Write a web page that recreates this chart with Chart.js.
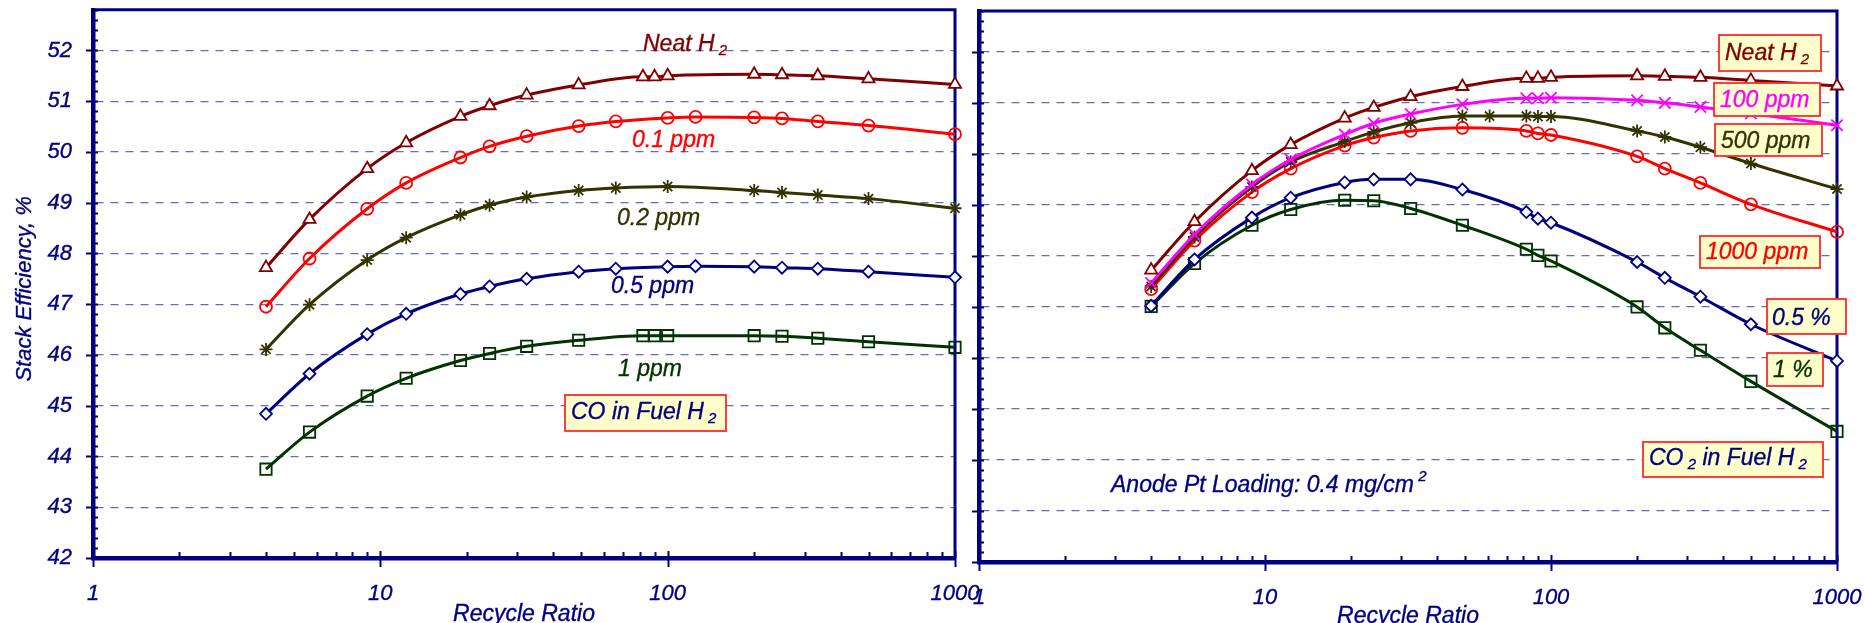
<!DOCTYPE html>
<html>
<head>
<meta charset="utf-8">
<title>Stack efficiency vs recycle ratio</title>
<script src="https://cdn.jsdelivr.net/npm/chart.js@4.4.0/dist/chart.umd.min.js"></script>
<style>
  html, body { margin: 0; padding: 0; background: #fff; overflow: hidden; }
  #wrap { position: relative; width: 1866px; height: 623px; }
  canvas { position: absolute; top: 0; }
  #coChart { left: 0; }
  #co2Chart { left: 940px; }
</style>
</head>
<body>
<div id="wrap">
  <canvas id="coChart" width="1000" height="623"></canvas>
  <canvas id="co2Chart" width="926" height="623"></canvas>
</div>
<script>
const NAVY = '#000080';
const MAROON = '#800000';
const RED = '#ff0000';
const OLIVE = '#333300';
const GREEN = '#003300';
const MAGENTA = '#ff00ff';
const GRID = '#6a6abb';
const FONT = '"Liberation Sans", Arial, sans-serif';

// ---- CO in fuel H2 (left panel) ----
const coRatioA = [4, 5.67, 9, 12.3, 19, 24, 32.3, 49, 82, 90, 100, 200, 250, 333, 500, 1000];
const coRatioB = [4, 5.67, 9, 12.3, 19, 24, 32.3, 49, 66, 100, 125, 200, 250, 333, 500, 1000];
const coRatioC = [4, 5.67, 9, 12.3, 19, 24, 32.3, 49, 66, 100, 200, 250, 333, 500, 1000];

const coNeat  = [47.72, 48.67, 49.67, 50.18, 50.70, 50.91, 51.12, 51.32, 51.48, 51.48, 51.50, 51.53, 51.52, 51.50, 51.44, 51.33];
const co01ppm = [46.95, 47.90, 48.88, 49.39, 49.89, 50.11, 50.31, 50.51, 50.60, 50.67, 50.69, 50.68, 50.66, 50.60, 50.52, 50.35];
const co02ppm = [46.11, 46.99, 47.87, 48.31, 48.76, 48.95, 49.11, 49.24, 49.29, 49.32, 49.24, 49.20, 49.15, 49.08, 48.89];
const co05ppm = [44.84, 45.63, 46.41, 46.81, 47.20, 47.35, 47.50, 47.64, 47.70, 47.74, 47.75, 47.74, 47.72, 47.70, 47.64, 47.53];
const co1ppm  = [43.75, 44.48, 45.19, 45.54, 45.89, 46.03, 46.17, 46.29, 46.38, 46.38, 46.38, 46.38, 46.37, 46.33, 46.26, 46.15];

// ---- CO2 in fuel H2 (right panel) ----
const co2RatioA = [4, 5.67, 9, 12.3, 19, 24, 32.3, 49, 82, 90, 100, 200, 250, 333, 500, 1000];
const co2RatioB = [4, 5.67, 9, 12.3, 19, 24, 32.3, 49, 61, 82, 90, 100, 200, 250, 333, 500, 1000];

const co2Neat    = [47.72, 48.67, 49.67, 50.18, 50.70, 50.91, 51.12, 51.32, 51.48, 51.48, 51.50, 51.53, 51.52, 51.50, 51.44, 51.33];
const co2_100ppm = [47.47, 48.42, 49.40, 49.89, 50.38, 50.60, 50.78, 50.97, 51.09, 51.09, 51.10, 51.05, 51.00, 50.92, 50.79, 50.56];
const co2_500ppm = [47.40, 48.37, 49.35, 49.84, 50.24, 50.43, 50.61, 50.74, 50.74, 50.74, 50.73, 50.73, 50.45, 50.33, 50.13, 49.81, 49.31];
const co2_1000ppm = [47.35, 48.30, 49.25, 49.71, 50.16, 50.32, 50.45, 50.51, 50.45, 50.40, 50.37, 49.95, 49.71, 49.43, 49.01, 48.47];
const co2_05pct  = [47.02, 47.93, 48.75, 49.14, 49.44, 49.50, 49.50, 49.30, 48.86, 48.73, 48.65, 47.88, 47.57, 47.20, 46.66, 45.94];
const co2_1pct   = [47.01, 47.85, 48.60, 48.91, 49.09, 49.08, 48.93, 48.60, 48.13, 48.01, 47.90, 47.00, 46.59, 46.15, 45.54, 44.56];

const effTicks = [42, 43, 44, 45, 46, 47, 48, 49, 50, 51, 52];
const ratioTicks = [1, 10, 100, 1000];

const HOLLOW = 'rgba(0,0,0,0)';

function pts(xs, ys) {
  return xs.map((x, i) => ({ x: x, y: ys[i] }));
}

function series(label, xs, ys, color, style, radius, fill) {
  return {
    label: label,
    data: pts(xs, ys),
    borderColor: color,
    backgroundColor: fill,
    borderWidth: 3,
    pointStyle: style,
    pointRadius: radius,
    pointBorderColor: color,
    pointBackgroundColor: fill,
    pointBorderWidth: 1.8,
    cubicInterpolationMode: 'monotone',
    clip: false
  };
}

// draws a run of text pieces; 'sub' and 'sup' pieces are smaller and shifted
function drawParts(ctx, parts, x, y, color) {
  ctx.fillStyle = color;
  ctx.strokeStyle = color;
  ctx.lineWidth = 0.35;
  ctx.textBaseline = 'alphabetic';
  ctx.textAlign = 'left';
  let cx = x;
  parts.forEach(p => {
    const kind = p[1] || '';
    const size = kind ? 15 : 23;
    const dy = kind === 'sub' ? 4 : (kind === 'sup' ? -11 : 0);
    ctx.font = 'italic ' + size + 'px ' + FONT;
    ctx.fillText(p[0], cx, y + dy);
    ctx.strokeText(p[0], cx, y + dy);
    cx += ctx.measureText(p[0]).width;
  });
}

function makeDeco(cfg) {
  return {
    id: 'panelDeco',
    beforeDatasetsDraw(chart) {
      const { ctx, chartArea: a, scales } = chart;
      const xs = scales.x, ys = scales.y;
      ctx.save();
      ctx.strokeStyle = NAVY;
      // top and right edges of the frame
      ctx.lineWidth = 3;
      ctx.beginPath();
      ctx.moveTo(a.left, a.top);
      ctx.lineTo(a.right, a.top);
      ctx.lineTo(a.right, a.bottom);
      ctx.stroke();
      // efficiency ticks every 0.2
      ctx.lineWidth = 2;
      ctx.beginPath();
      for (let i = 420; i <= 528; i += 2) {
        const py = Math.round(ys.getPixelForValue(i / 10)) + 0.5;
        const major = i % 10 === 0;
        ctx.moveTo(a.left - (major ? 7 : 2), py);
        ctx.lineTo(a.left + 5, py);
      }
      ctx.stroke();
      // log ticks on the ratio axis
      ctx.beginPath();
      [1, 10, 100].forEach(d => {
        for (let m = 1; m <= 9; m++) {
          const px = Math.round(xs.getPixelForValue(m * d)) + 0.5;
          if (m === 1) {
            ctx.moveTo(px, a.bottom - 7);
            ctx.lineTo(px, a.bottom + 9);
          } else {
            ctx.moveTo(px, a.bottom - 6);
            ctx.lineTo(px, a.bottom);
          }
        }
      });
      const pEnd = Math.round(xs.getPixelForValue(1000)) + 0.5;
      ctx.moveTo(pEnd, a.bottom - 7);
      ctx.lineTo(pEnd, a.bottom + 9);
      ctx.stroke();
      ctx.restore();
    },
    afterDatasetsDraw(chart) {
      const { ctx, chartArea: a } = chart;
      const off = cfg.offset;
      ctx.save();
      cfg.boxes.forEach(b => {
        ctx.fillStyle = '#ffffcc';
        ctx.fillRect(b.x - off, b.y, b.w, b.h);
        ctx.strokeStyle = '#ff2a2a';
        ctx.lineWidth = 1.8;
        ctx.strokeRect(b.x - off, b.y, b.w, b.h);
      });
      cfg.notes.forEach(n => drawParts(ctx, n.parts, n.x - off, n.y, n.color));

      // axis titles
      ctx.fillStyle = NAVY;
      ctx.strokeStyle = NAVY;
      ctx.lineWidth = 0.35;
      ctx.font = 'italic 23px ' + FONT;
      ctx.textAlign = 'center';
      ctx.textBaseline = 'alphabetic';
      const cx = (a.left + a.right) / 2;
      ctx.fillText('Recycle Ratio', cx, cfg.xTitleY);
      ctx.strokeText('Recycle Ratio', cx, cfg.xTitleY);
      if (cfg.yTitle) {
        ctx.save();
        ctx.translate(31, (a.top + a.bottom) / 2 + 5);
        ctx.rotate(-Math.PI / 2);
        ctx.font = 'italic 22px ' + FONT;
        ctx.fillText(cfg.yTitle, 0, 0);
        ctx.strokeText(cfg.yTitle, 0, 0);
        ctx.restore();
      }
      ctx.restore();
    }
  };
}

function panelOptions(p) {
  const tickFont = { family: FONT, size: 22, style: 'italic' };
  return {
    responsive: false,
    animation: false,
    events: [],
    layout: { padding: p.padding },
    plugins: { legend: { display: false }, tooltip: { enabled: false } },
    scales: {
      x: {
        type: 'logarithmic',
        min: 1,
        max: 1000,
        grid: { display: false },
        border: { display: true, color: NAVY, width: 4.5 },
        afterBuildTicks(s) { s.ticks = ratioTicks.map(v => ({ value: v, major: true })); },
        ticks: {
          color: NAVY, font: tickFont, padding: 15,
          textStrokeColor: NAVY, textStrokeWidth: 0.35,
          autoSkip: false, maxRotation: 0,
          callback: v => String(v)
        },
        afterFit(s) {
          s.height = p.xHeight;
          s.paddingLeft = 0;
          s.paddingRight = 0;
        }
      },
      y: {
        type: 'linear',
        min: 42,
        max: 52.8,
        afterBuildTicks(s) { s.ticks = effTicks.map(v => ({ value: v })); },
        grid: {
          color: c => (c.tick && c.tick.value === 42) ? 'rgba(0,0,0,0)' : GRID,
          lineWidth: 1.3,
          drawTicks: false
        },
        border: { display: true, color: NAVY, width: 4.5, dash: [8, 7] },
        ticks: {
          display: p.yLabels, color: NAVY, font: tickFont, padding: 21,
          textStrokeColor: NAVY, textStrokeWidth: 0.35,
          callback: v => String(v)
        },
        afterFit(s) {
          s.width = p.yWidth;
          s.paddingTop = 0;
          s.paddingBottom = 0;
        }
      }
    }
  };
}

new Chart(document.getElementById('coChart'), {
  type: 'line',
  data: {
    datasets: [
      series('Neat H2', coRatioA, coNeat, MAROON, 'triangle', 7, '#ffffff'),
      series('0.1 ppm', coRatioB, co01ppm, RED, 'circle', 6, HOLLOW),
      series('0.2 ppm', coRatioC, co02ppm, OLIVE, 'star', 6.5, HOLLOW),
      series('0.5 ppm', coRatioB, co05ppm, NAVY, 'rectRot', 6, '#ffffff'),
      series('1 ppm', coRatioA, co1ppm, GREEN, 'rect', 8, HOLLOW)
    ]
  },
  options: panelOptions({ padding: { left: 0, top: 8, right: 45, bottom: 0 }, xHeight: 65, yWidth: 93, yLabels: true }),
  plugins: [makeDeco({
    offset: 0,
    xTitleY: 621,
    yTitle: 'Stack Efficiency, %',
    boxes: [{ x: 565, y: 395, w: 161, h: 36 }],
    notes: [
      { parts: [['Neat H'], [' 2', 'sub']], x: 643, y: 51, color: MAROON },
      { parts: [['0.1 ppm']], x: 632, y: 147, color: RED },
      { parts: [['0.2 ppm']], x: 617, y: 225, color: OLIVE },
      { parts: [['0.5 ppm']], x: 611, y: 293, color: NAVY },
      { parts: [['1 ppm']], x: 618, y: 376, color: GREEN },
      { parts: [['CO in Fuel H'], [' 2', 'sub']], x: 571, y: 419, color: NAVY }
    ]
  })]
});

new Chart(document.getElementById('co2Chart'), {
  type: 'line',
  data: {
    datasets: [
      series('Neat H2', co2RatioA, co2Neat, MAROON, 'triangle', 7, '#ffffff'),
      series('100 ppm', co2RatioA, co2_100ppm, MAGENTA, 'crossRot', 8, HOLLOW),
      series('500 ppm', co2RatioB, co2_500ppm, OLIVE, 'star', 6.5, HOLLOW),
      series('1000 ppm', co2RatioA, co2_1000ppm, RED, 'circle', 6, HOLLOW),
      series('0.5 %', co2RatioA, co2_05pct, NAVY, 'rectRot', 6, '#ffffff'),
      series('1 %', co2RatioA, co2_1pct, GREEN, 'rect', 8, HOLLOW)
    ]
  },
  options: panelOptions({ padding: { left: 0, top: 11, right: 29, bottom: 0 }, xHeight: 61, yWidth: 39, yLabels: false }),
  plugins: [makeDeco({
    offset: 940,
    xTitleY: 623,
    yTitle: null,
    boxes: [
      { x: 1719, y: 35, w: 102, h: 36 },
      { x: 1714, y: 83, w: 106, h: 33 },
      { x: 1715, y: 124, w: 107, h: 32 },
      { x: 1700, y: 236, w: 120, h: 32 },
      { x: 1767, y: 299, w: 79, h: 35 },
      { x: 1767, y: 353, w: 56, h: 33 },
      { x: 1643, y: 442, w: 180, h: 35 }
    ],
    notes: [
      { parts: [['Neat H'], [' 2', 'sub']], x: 1725, y: 60, color: MAROON },
      { parts: [['100 ppm']], x: 1720, y: 107, color: MAGENTA },
      { parts: [['500 ppm']], x: 1721, y: 148, color: OLIVE },
      { parts: [['1000 ppm']], x: 1706, y: 259, color: RED },
      { parts: [['0.5 %']], x: 1772, y: 325, color: NAVY },
      { parts: [['1 %']], x: 1773, y: 377, color: GREEN },
      { parts: [['CO'], [' 2', 'sub'], [' in Fuel H'], [' 2', 'sub']], x: 1649, y: 465, color: NAVY },
      { parts: [['Anode Pt Loading: 0.4 mg/cm'], [' 2', 'sup']], x: 1111, y: 492, color: NAVY }
    ]
  })]
});
</script>
</body>
</html>
